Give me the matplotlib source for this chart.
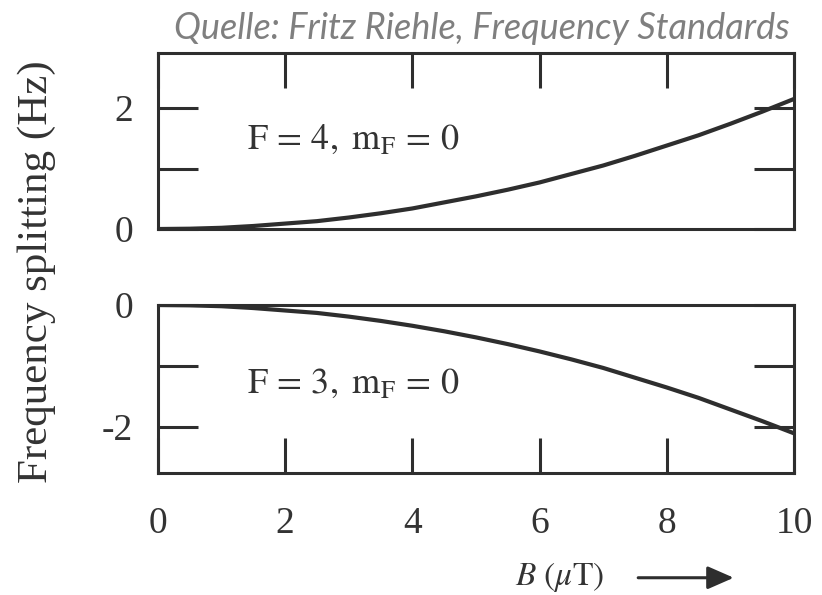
import matplotlib
matplotlib.use("Agg")
import matplotlib.pyplot as plt

plt.rcParams["font.family"] = ["Liberation Serif", "DejaVu Serif"]
plt.rcParams["mathtext.fontset"] = "stix"

# magnetic field B in µT
B = [0, 0.5, 1, 1.5, 2, 2.5, 3, 3.5, 4, 4.5, 5, 5.5, 6, 6.5, 7, 7.5, 8, 8.5, 9, 9.5, 10]
# frequency shift of F=4, mF=0 (Hz)
f_upper = [0, 0.005, 0.02, 0.05, 0.09, 0.13, 0.19, 0.26, 0.34, 0.44, 0.54,
           0.65, 0.77, 0.91, 1.05, 1.21, 1.38, 1.55, 1.74, 1.94, 2.15]
# frequency shift of F=3, mF=0 (Hz)
f_lower = [0, -0.005, -0.02, -0.05, -0.09, -0.13, -0.19, -0.26, -0.34, -0.43, -0.53,
           -0.64, -0.76, -0.89, -1.03, -1.19, -1.35, -1.52, -1.71, -1.90, -2.10]

x_ticks = [0, 2, 4, 6, 8, 10]
x_labels = ["0", "2", "4", "6", "8", "10"]
upper_ticks = [0, 1, 2]
upper_labels = ["0", "", "2"]
lower_ticks = [-2, -1, 0]
lower_labels = ["-2", "", "0"]

ink = "#2e2e2e"
fig = plt.figure(figsize=(8.22, 5.95), dpi=100)
ax1 = fig.add_axes([0.1922, 0.6151, 0.7737, 0.2958])
ax2 = fig.add_axes([0.1922, 0.2050, 0.7737, 0.2824])

for ax in (ax1, ax2):
    for sp in ax.spines.values():
        sp.set_linewidth(2.2)
        sp.set_color(ink)
    ax.set_xlim(0, 10)
    ax.set_xticks(x_ticks)
    ax.tick_params(axis="both", direction="in", width=2.2, color=ink,
                   labelsize=27, labelcolor="#333333")
    ax.tick_params(axis="y", length=29, left=True, right=True, pad=18)
    ax.tick_params(axis="x", length=25)

ax1.plot(B, f_upper, color=ink, lw=3)
ax1.set_ylim(0, 2.91)
ax1.set_yticks(upper_ticks)
ax1.set_yticklabels(upper_labels)
ax1.tick_params(axis="x", top=True, bottom=False, labelbottom=False)
ax1.text(1.4, 1.47, r"$\mathrm{F\,=\,4,\ m_F\,=\,0}$", fontsize=26,
         color="#333333", va="center")

ax2.plot(B, f_lower, color=ink, lw=3)
ax2.set_ylim(-2.75, 0)
ax2.set_yticks(lower_ticks)
ax2.set_yticklabels(lower_labels)
ax2.set_xticklabels(x_labels)
ax2.tick_params(axis="x", top=False, bottom=True, pad=24)
ax2.text(1.4, -1.3, r"$\mathrm{F\,=\,3,\ m_F\,=\,0}$", fontsize=26,
         color="#333333", va="center")

fig.text(0.045, 0.543, "Frequency splitting (Hz)", rotation=90, fontsize=31,
         color="#333333", ha="center", va="center")
fig.text(0.681, 0.03, r"$B\ (\mu\mathrm{T})$", fontsize=24, color="#333333",
         ha="center", va="center")
fig.add_artist(matplotlib.patches.FancyArrowPatch(
    (0.773, 0.029), (0.896, 0.029), transform=fig.transFigure,
    arrowstyle="-|>,head_length=0.8,head_width=0.35", mutation_scale=20,
    color=ink, lw=2.2))

fig.text(0.586, 0.952, "Quelle: Fritz Riehle, Frequency Standards",
         family="Lato", style="italic", fontsize=26, color="#7f7f7f",
         ha="center", va="center")

fig.savefig("out.png", dpi=100)
